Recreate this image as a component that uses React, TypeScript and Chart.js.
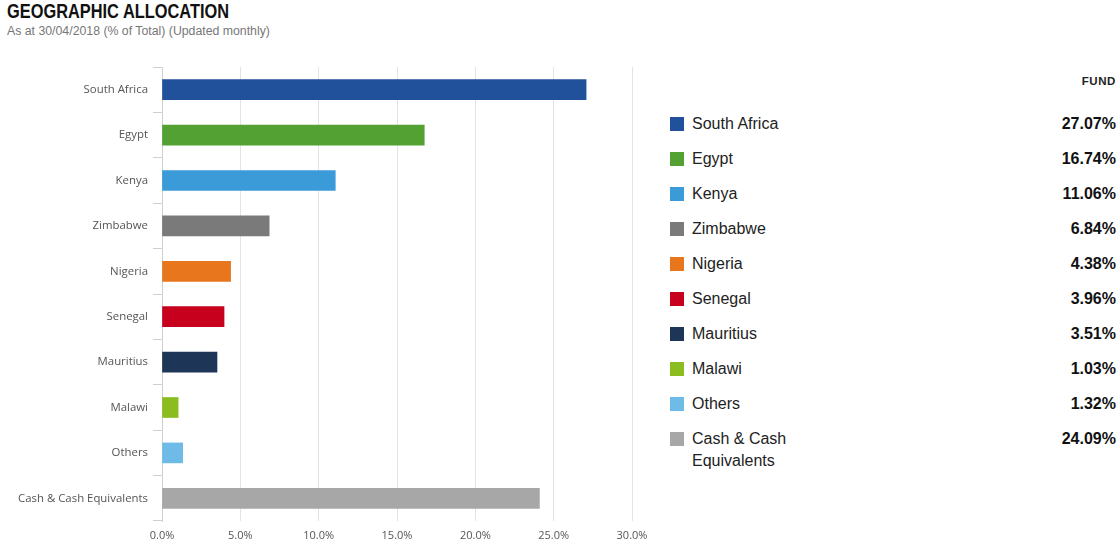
import React, { useEffect, useRef } from "react";
import { Chart, registerables } from "chart.js";

Chart.register(...registerables);

const categories = [
  "South Africa",
  "Egypt",
  "Kenya",
  "Zimbabwe",
  "Nigeria",
  "Senegal",
  "Mauritius",
  "Malawi",
  "Others",
  "Cash & Cash Equivalents",
];
const legendLabels = [
  "South Africa",
  "Egypt",
  "Kenya",
  "Zimbabwe",
  "Nigeria",
  "Senegal",
  "Mauritius",
  "Malawi",
  "Others",
  "Cash & Cash Equivalents",
];
const values = [27.07, 16.74, 11.06, 6.84, 4.38, 3.96, 3.51, 1.03, 1.32, 24.09];
const colors = [
  "#21519a",
  "#53a033",
  "#3b9bd9",
  "#7a7a7a",
  "#e8761c",
  "#c6001d",
  "#1d3557",
  "#8cbd20",
  "#6fbbe8",
  "#a7a7a7",
];
const xTicks = [0, 5, 10, 15, 20, 25, 30];

const tickFont = { family: "'Open Sans', sans-serif", size: 11.4 };

export default function App() {
  const canvasRef = useRef<HTMLCanvasElement | null>(null);

  useEffect(() => {
    if (!canvasRef.current) return;
    const chart = new Chart(canvasRef.current, {
      type: "bar",
      data: {
        labels: categories,
        datasets: [
          {
            data: values,
            backgroundColor: colors,
            borderWidth: 0,
            barThickness: 20,
          },
        ],
      },
      options: {
        indexAxis: "y",
        animation: false,
        responsive: false,
        maintainAspectRatio: false,
        layout: { padding: { top: 17, right: 28, left: 0, bottom: 0 } },
        plugins: { legend: { display: false }, tooltip: { enabled: false } },
        scales: {
          x: {
            min: xTicks[0],
            max: xTicks[xTicks.length - 1],
            afterFit: (s: any) => {
              s.height = 26;
            },
            afterBuildTicks: (s: any) => {
              s.ticks = xTicks.map((v) => ({ value: v }));
            },
            ticks: {
              callback: (v: any) => Number(v).toFixed(1) + "%",
              color: "#555",
              font: { family: "'Open Sans', sans-serif", size: 11 },
              padding: 8,
              maxRotation: 0,
            },
            grid: { color: "#e3e3e3", drawTicks: false, lineWidth: 1 },
            border: { display: false },
          },
          y: {
            afterFit: (s: any) => {
              s.width = 162;
            },
            ticks: {
              color: "#555",
              font: tickFont,
              padding: 5,
            },
            grid: {
              drawOnChartArea: false,
              drawTicks: true,
              tickLength: 9,
              color: "#d0d0d0",
              offset: true,
            },
            border: { display: true, color: "#d0d0d0" },
          },
        },
      },
    });
    return () => chart.destroy();
  }, []);

  const rowTop = 124;
  const rowStep = 35;

  return (
    <div
      style={{
        position: "absolute",
        left: 0,
        top: 0,
        width: 1119,
        height: 547,
        fontFamily: "'Liberation Sans', Arial, sans-serif",
        overflow: "hidden",
      }}
    >
      <div
        style={{
          position: "absolute",
          left: 7,
          top: 0,
          fontFamily: "'Liberation Sans', sans-serif",
          fontWeight: 700,
          fontSize: 19.5,
          lineHeight: "22px",
          color: "#111",
          transform: "scaleX(0.84)",
          transformOrigin: "0 0",
          whiteSpace: "nowrap",
        }}
      >
        GEOGRAPHIC ALLOCATION
      </div>
      <div
        style={{
          position: "absolute",
          left: 7,
          top: 24,
          fontSize: 12.3,
          lineHeight: "14px",
          color: "#777",
          whiteSpace: "nowrap",
        }}
      >
        As at 30/04/2018 (% of Total) (Updated monthly)
      </div>
      <canvas
        ref={canvasRef}
        width={660}
        height={497}
        style={{ position: "absolute", left: 0, top: 50, width: 660, height: 497 }}
      />
      <div
        style={{
          position: "absolute",
          right: 3,
          top: 74,
          fontSize: 11.5,
          lineHeight: "14px",
          fontWeight: 900,
          letterSpacing: 0.6,
          color: "#222",
        }}
      >
        FUND
      </div>
      {legendLabels.map((lab, i) => (
        <div key={lab}>
          <div
            style={{
              position: "absolute",
              left: 670,
              top: rowTop + rowStep * i - 7,
              width: 14,
              height: 14,
              background: colors[i],
            }}
          />
          <div
            style={{
              position: "absolute",
              left: 692,
              top: rowTop + rowStep * i - 11,
              width: 130,
              fontSize: 16,
              lineHeight: "22px",
              color: "#222",
            }}
          >
            {lab}
          </div>
          <div
            style={{
              position: "absolute",
              right: 3,
              top: rowTop + rowStep * i - 11,
              fontSize: 16,
              lineHeight: "22px",
              fontWeight: 700,
              color: "#111",
            }}
          >
            {values[i].toFixed(2)}%
          </div>
        </div>
      ))}
    </div>
  );
}
